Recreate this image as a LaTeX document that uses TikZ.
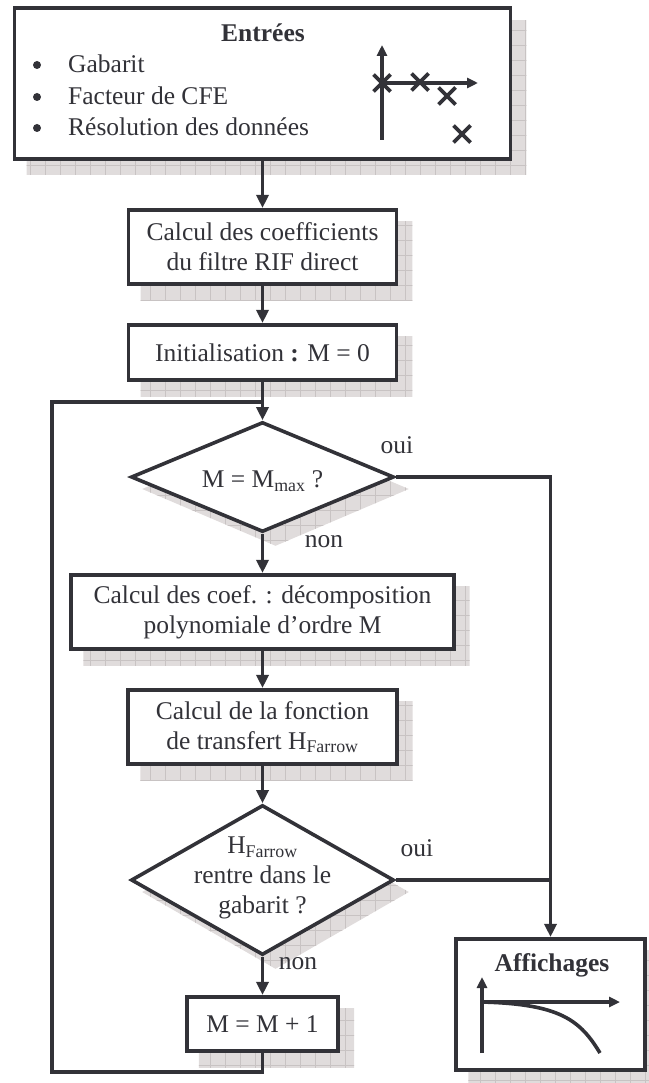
\documentclass[tikz,border=0pt]{standalone}
\usepackage{fontspec}
\setmainfont{Liberation Serif}
\usetikzlibrary{arrows.meta,shapes.geometric,backgrounds}
\definecolor{ink}{RGB}{50,50,56}
\definecolor{shfill}{RGB}{224,220,220}
\definecolor{shgrid}{RGB}{200,195,195}
\newcommand\myfs{\fontsize{25.5pt}{30pt}\selectfont}
\newcommand\mkshadow[1]{%
  \begin{scope}[on background layer]
    \begin{scope}
      \clip #1;
      \fill[shfill] (0,0) rectangle (660,1100);
      \foreach \gx in {0,15,...,660} \draw[shgrid,line width=0.6pt] (\gx,0) -- (\gx,1100);
      \foreach \gy in {0,15,...,1095} \draw[shgrid,line width=0.6pt] (0,\gy) -- (660,\gy);
    \end{scope}
  \end{scope}}
\newcommand\rshadow[1]{\mkshadow{([shift={(14,14)}]#1.north west) rectangle ([shift={(14,14)}]#1.south east)}}
\newcommand\dshadow[1]{\mkshadow{([shift={(13,12)}]#1.north) -- ([shift={(13,12)}]#1.east) -- ([shift={(13,12)}]#1.south) -- ([shift={(13,12)}]#1.west) -- cycle}}
\begin{document}
\begin{tikzpicture}[x=1pt,y=-1pt,
  box/.style={draw=ink, line width=3.6pt, fill=white, rectangle, inner sep=0pt, align=center, text=ink, font=\myfs},
  dia/.style={draw=ink, line width=3.6pt, fill=white, diamond, inner sep=0pt, minimum width=263pt},
  txt/.style={inner sep=0pt, text=ink, font=\myfs, align=center},
  dot/.style={circle, fill=ink, inner sep=0pt, minimum size=8pt},
  conn/.style={draw=ink, line width=3.6pt},
  arr/.style={conn, -{Triangle[length=13pt,width=12pt]}},
  axarr/.style={conn, -{Triangle[length=11pt,width=10pt]}}]
\useasboundingbox (0,0) rectangle (648,1083);

% nodes
\node[box, minimum width=496pt, minimum height=151pt] (inp) at (262.5,83.5) {};
\node[box, minimum width=268pt, minimum height=74.5pt] (b2) at (262.5,247) {Calcul des coefficients\\du filtre RIF direct};
\node[box, minimum width=268pt, minimum height=55.5pt] (b3) at (262.5,352.5) {Initialisation \textbf{:} M = 0};
\node[dia, minimum height=110pt] (d1) at (262.5,477) {};
\node[txt] (t1) at (262.5,481) {M = M\textsubscript{max} ?};
\node[box, minimum width=382.5pt, minimum height=74.5pt] (b4) at (262.5,612) {Calcul des coef. : décomposition\\polynomiale d’ordre M};
\node[box, minimum width=268.5pt, minimum height=74.5pt] (b5) at (262.5,727) {Calcul de la fonction\\de transfert H\textsubscript{Farrow}};
\node[dia, minimum height=150pt] (d2) at (262.5,880) {};
\node[txt] (t2) at (262.5,878) {H\textsubscript{Farrow}\\rentre dans le\\gabarit ?};
\node[box, minimum width=151.5pt, minimum height=54.5pt] (b6) at (262.5,1024) {M = M + 1};
\node[box, minimum width=188.5pt, minimum height=131.5pt] (aff) at (550.5,1004.5) {};

% shadows
\rshadow{inp}\rshadow{b2}\rshadow{b3}\rshadow{b4}\rshadow{b5}\rshadow{b6}\rshadow{aff}
\dshadow{d1}\dshadow{d2}

% contents of the input box
\node[txt, font=\myfs\bfseries] (ent) at (263,33) {Entrées};
\node[dot] (bu1) at (37,65) {};
\node[dot] (bu2) at (37,97) {};
\node[dot] (bu3) at (37,128) {};
\node[txt, anchor=west] (i1) at (68,64) {Gabarit};
\node[txt, anchor=west] (i2) at (68,96) {Facteur de CFE};
\node[txt, anchor=west] (i3) at (68,127) {Résolution des données};
\draw[axarr] (382,140) -- (382,45);
\draw[axarr] (382,83) -- (478,83);
\foreach \cx/\cy in {382/83,420/82,447/96,462/134}
  \draw[conn] (\cx-8.5,\cy-8.5) -- (\cx+8.5,\cy+8.5) (\cx-8.5,\cy+8.5) -- (\cx+8.5,\cy-8.5);

% contents of the display box
\node[txt, font=\myfs\bfseries] (afft) at (552,965) {Affichages};
\draw[axarr] (482,1053) -- (482,977);
\draw[axarr] (482,1002) -- (620,1002);
\draw[conn] (482,1002) .. controls (560,1004) and (580,1020) .. (600,1053);

% labels
\node[txt] (oui1) at (397,445) {oui};
\node[txt] (non1) at (324,542) {non};
\node[txt] (oui2) at (417,848) {oui};
\node[txt] (non2) at (298,964) {non};

% connectors
\coordinate (lbot) at (52,1072);
\coordinate (ltop) at (52,402);
\draw[arr] (inp.south) -- (b2.north);
\draw[arr] (b2.south) -- (b3.north);
\draw[arr] (b3.south) -- (d1.north);
\draw[arr] (d1.south) -- (b4.north);
\draw[arr] (b4.south) -- (b5.north);
\draw[arr] (b5.south) -- (d2.north);
\draw[arr] (d2.south) -- (b6.north);
\draw[arr] (d1.east) -| (aff.north);
\draw[conn] (d2.east) -- (d2.east -| aff.north);
\draw[conn] (b6.south) |- (lbot) -- (ltop) -- (ltop -| b3.south);
\end{tikzpicture}
\end{document}
